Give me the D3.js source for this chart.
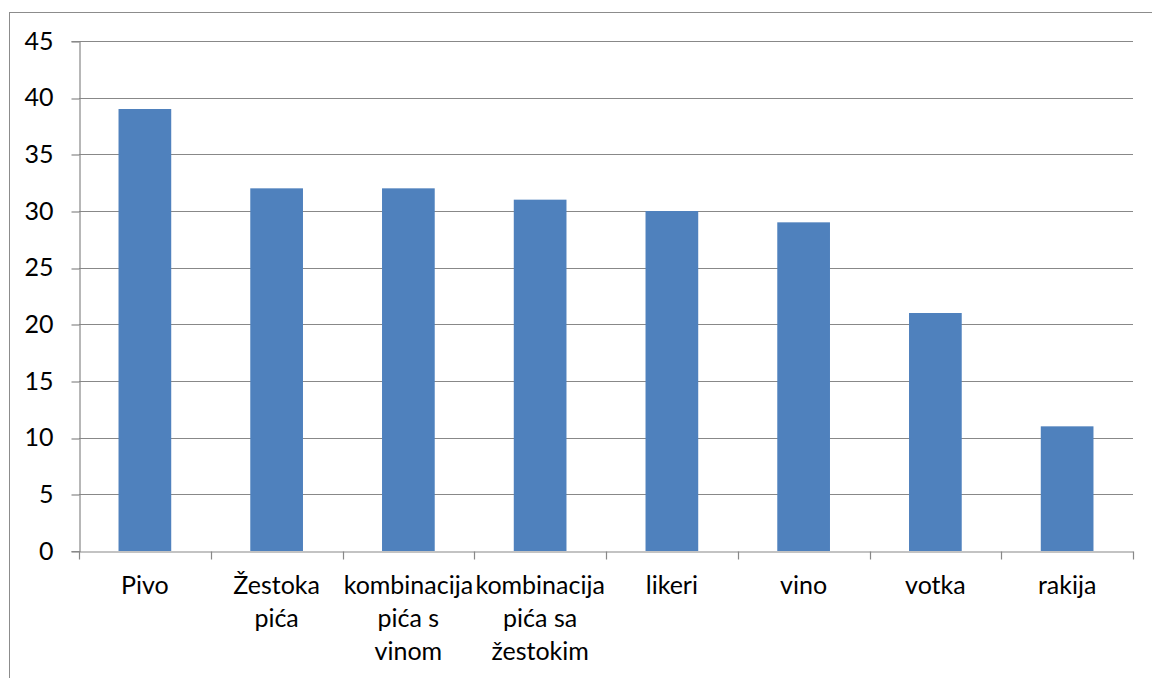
<!DOCTYPE html>
<html>
<head>
<meta charset="utf-8">
<script src="https://cdn.jsdelivr.net/npm/d3@7"></script>
<style>
  html, body { margin: 0; padding: 0; background: #fff; }
  svg { display: block; }
  text { font-family: Lato, "Open Sans", sans-serif; fill: #000; }
</style>
</head>
<body>
<svg id="chart" width="1152" height="678"></svg>
<script>
const categories = ["Pivo", "Žestoka\npića", "kombinacija\npića s\nvinom", "kombinacija\npića sa\nžestokim", "likeri", "vino", "votka", "rakija"];
const values = [39, 32, 32, 31, 30, 29, 21, 11];
const yTicks = [0, 5, 10, 15, 20, 25, 30, 35, 40, 45];

const svg = d3.select("#chart");
const margin = { left: 79, top: 41, right: 1133, bottom: 551 };
const fontSize = 25;

// outer frame
svg.append("rect")
  .attr("x", 9.5).attr("y", 12.5)
  .attr("width", 1200).attr("height", 700)
  .attr("fill", "none").attr("stroke", "#8c8c8c").attr("stroke-width", 1);

const x = d3.scaleBand().domain(categories).range([margin.left, margin.right]).paddingInner(0).paddingOuter(0);
const y = d3.scaleLinear().domain([0, 45]).range([margin.bottom, margin.top]);

// gridlines
svg.append("g").selectAll("line").data(yTicks.filter(d => d > 0)).join("line")
  .attr("x1", margin.left).attr("x2", margin.right)
  .attr("y1", d => Math.round(y(d)) + 0.5).attr("y2", d => Math.round(y(d)) + 0.5)
  .attr("stroke", "#888").attr("stroke-width", 1.2);

// bars
const barW = x.bandwidth() * 0.4;
svg.append("g").selectAll("rect").data(values).join("rect")
  .attr("x", (d, i) => x(categories[i]) + (x.bandwidth() - barW) / 2)
  .attr("y", d => y(d))
  .attr("width", barW)
  .attr("height", d => y(0) - y(d))
  .attr("fill", "#4F81BD");

// y axis
const yAxis = svg.append("g").attr("transform", `translate(${margin.left + 0.5},0)`)
  .call(d3.axisLeft(y).tickValues(yTicks).tickSize(8).tickPadding(18).tickFormat(d3.format("d")));
yAxis.select(".domain").attr("stroke", "#888").attr("stroke-width", 1.2);
yAxis.selectAll(".tick line").attr("stroke", "#888").attr("stroke-width", 1.2)
  .attr("transform", d => `translate(0,${Math.round(y(d)) + 0.5 - y(d)})`);
yAxis.selectAll(".tick text").attr("font-size", fontSize).attr("font-family", "Lato, sans-serif").attr("fill", "#000");

// x axis
const xg = svg.append("g").attr("transform", `translate(0,${margin.bottom + 0.5})`);
const xAxis = d3.axisBottom(x).tickSize(0).tickFormat("");
xg.call(xAxis);
xg.select(".domain").attr("stroke", "#888").attr("stroke-width", 1.2);
xg.selectAll(".tick").remove();
const bounds = categories.map(c => x(c)).concat([x(categories[categories.length - 1]) + x.bandwidth()]);
xg.selectAll("line.sep").data(bounds).join("line").attr("class", "sep")
  .attr("x1", d => Math.round(d) + 0.5).attr("x2", d => Math.round(d) + 0.5)
  .attr("y1", 0).attr("y2", 8)
  .attr("stroke", "#888").attr("stroke-width", 1.2);

// x labels
const lbl = svg.append("g").selectAll("text").data(categories).join("text")
  .attr("text-anchor", "middle")
  .attr("font-size", fontSize)
  .attr("x", d => x(d) + x.bandwidth() / 2)
  .attr("y", 594);
lbl.each(function(d) {
  const t = d3.select(this);
  const cx = x(d) + x.bandwidth() / 2;
  d.split("\n").forEach((line, i) => {
    t.append("tspan").attr("x", cx).attr("y", 594 + i * 33).text(line);
  });
});
</script>
</body>
</html>
